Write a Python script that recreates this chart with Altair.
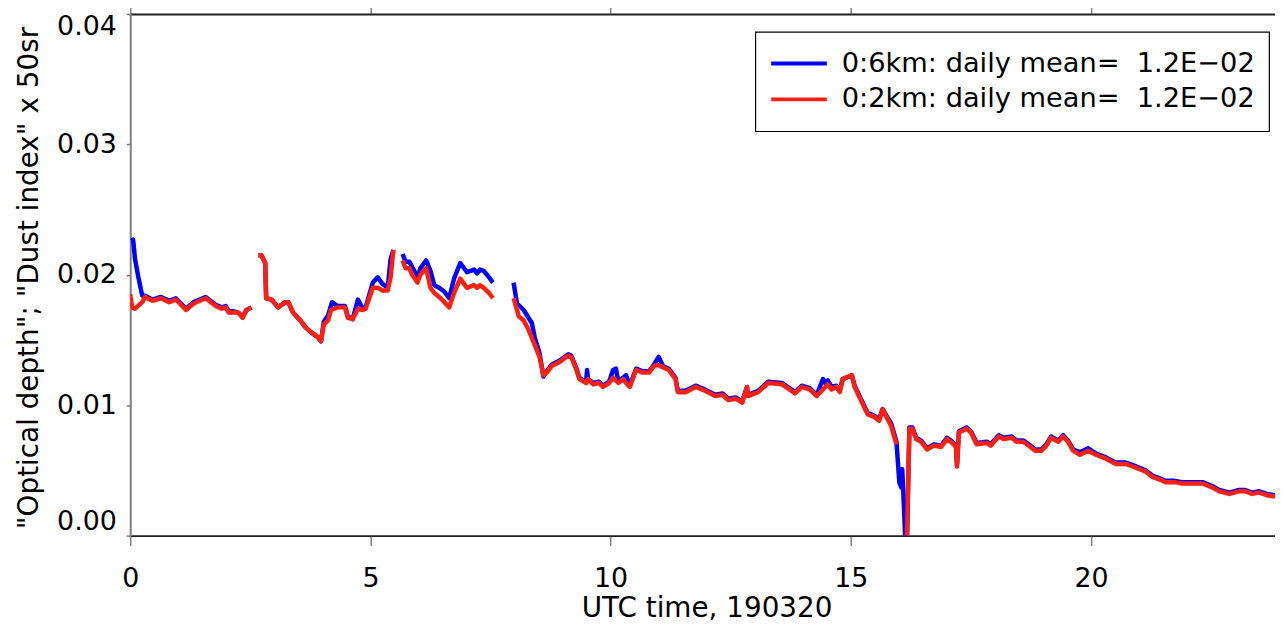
import altair as alt
import pandas as pd

BLUE_LABEL = "0:6km: daily mean=\u00a0\u00a01.2E\u221202"
RED_LABEL = "0:2km: daily mean=\u00a0\u00a01.2E\u221202"
Y_TITLE = '"Optical\u00a0depth";\u00a0"Dust\u00a0index"\u00a0x\u00a050sr'
X_TITLE = "UTC time,\u00a0190320"

x_ticks = [0, 5, 10, 15, 20]
y_ticks = [0.0, 0.01, 0.02, 0.03, 0.04]

# 0:6km series (blue), split where data are missing
blue_segments = [
    [(0.02, 0.0226), (0.06, 0.0227), (0.10, 0.0212), (0.17, 0.0198), (0.25, 0.0184), (0.31, 0.0184),
     (0.46, 0.0181), (0.64, 0.0183), (0.81, 0.0180), (0.95, 0.0182), (1.16, 0.0174), (1.32, 0.0179),
     (1.57, 0.0183), (1.78, 0.0177), (1.90, 0.0175), (1.99, 0.0176), (2.05, 0.0172), (2.15, 0.0172),
     (2.25, 0.0171), (2.34, 0.0168), (2.42, 0.0173), (2.52, 0.0175)],
    [(2.67, 0.0215), (2.73, 0.0215), (2.81, 0.0209), (2.83, 0.0182), (2.94, 0.0181), (3.08, 0.0175),
     (3.23, 0.0179), (3.29, 0.0179), (3.39, 0.0171), (3.54, 0.0165), (3.64, 0.0160), (3.76, 0.0156),
     (3.91, 0.0152), (3.97, 0.0149), (4.03, 0.0164), (4.12, 0.0169), (4.20, 0.0179), (4.32, 0.0176),
     (4.47, 0.0176), (4.53, 0.0168), (4.63, 0.0166), (4.74, 0.0181), (4.84, 0.0174), (4.90, 0.0175),
     (5.05, 0.0194), (5.15, 0.0198), (5.25, 0.0193), (5.36, 0.0190), (5.42, 0.0212), (5.48, 0.0219)],
    [(5.67, 0.0216), (5.73, 0.0210), (5.81, 0.0210), (5.87, 0.0206), (5.98, 0.0198), (6.04, 0.0205),
     (6.16, 0.0211), (6.25, 0.0203), (6.33, 0.0192), (6.43, 0.0190), (6.54, 0.0187), (6.64, 0.0182),
     (6.74, 0.0197), (6.87, 0.0209), (7.01, 0.0202), (7.16, 0.0204), (7.22, 0.0201), (7.28, 0.0204),
     (7.36, 0.0203), (7.47, 0.0198), (7.55, 0.0194)],
    [(7.98, 0.0194), (8.05, 0.0178), (8.19, 0.0173), (8.36, 0.0163), (8.42, 0.0152), (8.52, 0.0140),
     (8.60, 0.0122), (8.67, 0.0126), (8.77, 0.0131), (8.93, 0.0134), (9.12, 0.0139), (9.18, 0.0138),
     (9.29, 0.0128), (9.35, 0.0121), (9.49, 0.0118), (9.51, 0.0127), (9.53, 0.0120), (9.64, 0.0117),
     (9.76, 0.0118), (9.84, 0.0115), (9.97, 0.0118), (10.05, 0.0127), (10.11, 0.0128), (10.16, 0.0118),
     (10.26, 0.0121), (10.32, 0.0123), (10.40, 0.0115), (10.53, 0.0128), (10.67, 0.0126), (10.80, 0.0126),
     (10.90, 0.0131), (11.00, 0.0137), (11.09, 0.0130), (11.21, 0.0128), (11.35, 0.0121), (11.40, 0.0111),
     (11.56, 0.0111), (11.77, 0.0115), (11.91, 0.0113), (12.18, 0.0108), (12.33, 0.0109), (12.45, 0.0105),
     (12.60, 0.0106), (12.74, 0.0103), (12.84, 0.0114), (12.86, 0.0108), (13.07, 0.0111), (13.28, 0.0118),
     (13.57, 0.0117), (13.84, 0.0110), (13.98, 0.0115), (14.15, 0.0113), (14.29, 0.0108), (14.42, 0.0120),
     (14.47, 0.0117), (14.52, 0.0119), (14.60, 0.0114), (14.70, 0.0115), (14.77, 0.0111), (14.83, 0.0120),
     (15.02, 0.0123), (15.08, 0.0115), (15.22, 0.0104), (15.35, 0.0094), (15.49, 0.0092), (15.59, 0.0089),
     (15.66, 0.0097), (15.74, 0.0092), (15.84, 0.0086), (15.95, 0.0072), (16.01, 0.0041), (16.05, 0.0037),
     (16.07, 0.0051), (16.09, 0.0036), (16.13, 0.0000)],
    [(16.17, 0.0000), (16.22, 0.0083), (16.28, 0.0083), (16.36, 0.0075), (16.46, 0.0073), (16.59, 0.0067),
     (16.73, 0.0070), (16.88, 0.0069), (17.00, 0.0075), (17.08, 0.0073), (17.19, 0.0069), (17.21, 0.0054),
     (17.25, 0.0080), (17.41, 0.0083), (17.50, 0.0080), (17.62, 0.0071), (17.83, 0.0072), (17.91, 0.0070),
     (18.08, 0.0077), (18.18, 0.0075), (18.35, 0.0076), (18.45, 0.0073), (18.59, 0.0073), (18.74, 0.0069),
     (18.84, 0.0066), (18.97, 0.0066), (19.07, 0.0070), (19.17, 0.0076), (19.32, 0.0073), (19.42, 0.0077),
     (19.52, 0.0073), (19.63, 0.0066), (19.77, 0.0064), (19.94, 0.0067), (20.10, 0.0063), (20.31, 0.0060),
     (20.46, 0.0057), (20.52, 0.0056), (20.72, 0.0056), (20.87, 0.0054), (21.01, 0.0052), (21.14, 0.0050),
     (21.28, 0.0046), (21.43, 0.0044), (21.55, 0.0042), (21.74, 0.0042), (21.90, 0.0041), (22.11, 0.0041),
     (22.32, 0.0041), (22.52, 0.0038), (22.67, 0.0035), (22.88, 0.0033), (23.08, 0.0035), (23.21, 0.0035),
     (23.35, 0.0033), (23.50, 0.0034), (23.66, 0.0032), (23.83, 0.0031)],
]

# 0:2km series (red)
red_segments = [
    [(0.00, 0.0185), (0.04, 0.0175), (0.10, 0.0174), (0.25, 0.0179), (0.31, 0.0183), (0.46, 0.0180),
     (0.64, 0.0182), (0.81, 0.0179), (0.95, 0.0181), (1.16, 0.0173), (1.32, 0.0178), (1.57, 0.0182),
     (1.78, 0.0176), (1.90, 0.0174), (1.99, 0.0175), (2.05, 0.0171), (2.15, 0.0171), (2.25, 0.0171),
     (2.34, 0.0167), (2.42, 0.0173), (2.52, 0.0175)],
    [(2.67, 0.0215), (2.73, 0.0215), (2.81, 0.0209), (2.83, 0.0182), (2.94, 0.0181), (3.08, 0.0175),
     (3.23, 0.0179), (3.29, 0.0179), (3.39, 0.0171), (3.54, 0.0165), (3.64, 0.0160), (3.76, 0.0156),
     (3.91, 0.0152), (3.97, 0.0149), (4.03, 0.0162), (4.12, 0.0165), (4.18, 0.0173), (4.32, 0.0175),
     (4.47, 0.0175), (4.53, 0.0167), (4.63, 0.0166), (4.74, 0.0174), (4.84, 0.0173), (4.90, 0.0174),
     (5.05, 0.0190), (5.15, 0.0190), (5.25, 0.0188), (5.36, 0.0188), (5.42, 0.0198), (5.48, 0.0219)],
    [(5.67, 0.0211), (5.73, 0.0205), (5.81, 0.0205), (5.87, 0.0200), (5.98, 0.0194), (6.04, 0.0200),
     (6.16, 0.0205), (6.25, 0.0190), (6.33, 0.0186), (6.43, 0.0183), (6.54, 0.0179), (6.64, 0.0175),
     (6.74, 0.0186), (6.87, 0.0197), (7.01, 0.0190), (7.16, 0.0192), (7.22, 0.0190), (7.28, 0.0192),
     (7.36, 0.0190), (7.47, 0.0186), (7.55, 0.0182)],
    [(7.98, 0.0182), (8.09, 0.0168), (8.19, 0.0165), (8.29, 0.0158), (8.40, 0.0148), (8.52, 0.0137),
     (8.60, 0.0123), (8.67, 0.0125), (8.77, 0.0130), (8.93, 0.0133), (9.12, 0.0138), (9.18, 0.0137),
     (9.29, 0.0127), (9.35, 0.0120), (9.49, 0.0117), (9.53, 0.0120), (9.64, 0.0116), (9.76, 0.0117),
     (9.84, 0.0114), (9.97, 0.0117), (10.05, 0.0121), (10.16, 0.0117), (10.26, 0.0120), (10.32, 0.0117),
     (10.40, 0.0114), (10.53, 0.0127), (10.67, 0.0125), (10.80, 0.0125), (10.90, 0.0130), (10.98, 0.0131),
     (11.09, 0.0129), (11.21, 0.0127), (11.35, 0.0120), (11.40, 0.0110), (11.56, 0.0110), (11.77, 0.0114),
     (11.91, 0.0112), (12.18, 0.0107), (12.33, 0.0108), (12.45, 0.0104), (12.60, 0.0105), (12.74, 0.0102),
     (12.84, 0.0114), (12.86, 0.0107), (13.07, 0.0110), (13.28, 0.0117), (13.57, 0.0116), (13.84, 0.0109),
     (13.98, 0.0114), (14.15, 0.0112), (14.29, 0.0107), (14.42, 0.0112), (14.52, 0.0116), (14.60, 0.0112),
     (14.70, 0.0114), (14.77, 0.0110), (14.83, 0.0120), (15.02, 0.0123), (15.08, 0.0114), (15.22, 0.0103),
     (15.35, 0.0093), (15.49, 0.0091), (15.59, 0.0088), (15.66, 0.0097), (15.74, 0.0091), (15.84, 0.0084),
     (15.95, 0.0070)],
    [(16.17, 0.0000), (16.22, 0.0082), (16.28, 0.0082), (16.36, 0.0074), (16.46, 0.0072), (16.59, 0.0066),
     (16.73, 0.0069), (16.88, 0.0068), (17.00, 0.0074), (17.08, 0.0072), (17.19, 0.0068), (17.21, 0.0053),
     (17.25, 0.0079), (17.41, 0.0082), (17.50, 0.0079), (17.62, 0.0070), (17.83, 0.0071), (17.91, 0.0069),
     (18.08, 0.0076), (18.18, 0.0074), (18.35, 0.0075), (18.45, 0.0072), (18.59, 0.0072), (18.74, 0.0068),
     (18.84, 0.0065), (18.97, 0.0065), (19.07, 0.0069), (19.17, 0.0075), (19.32, 0.0072), (19.42, 0.0076),
     (19.52, 0.0072), (19.63, 0.0065), (19.77, 0.0062), (19.94, 0.0065), (20.10, 0.0062), (20.31, 0.0059),
     (20.46, 0.0056), (20.52, 0.0055), (20.72, 0.0055), (20.87, 0.0053), (21.01, 0.0051), (21.14, 0.0049),
     (21.28, 0.0045), (21.43, 0.0043), (21.55, 0.0041), (21.74, 0.0041), (21.90, 0.0040), (22.11, 0.0040),
     (22.32, 0.0040), (22.52, 0.0037), (22.67, 0.0034), (22.88, 0.0032), (23.08, 0.0034), (23.21, 0.0034),
     (23.35, 0.0032), (23.50, 0.0033), (23.66, 0.0031), (23.83, 0.0030)],
]

rows = []
for name, segs in ((BLUE_LABEL, blue_segments), (RED_LABEL, red_segments)):
    for i, seg in enumerate(segs):
        for t, v in seg:
            rows.append({"series": name, "seg": i, "t": t, "v": v})
df = pd.DataFrame(rows)

FONT = "DejaVu Sans"

color_scale = alt.Scale(domain=[BLUE_LABEL, RED_LABEL], range=["#0000ff", "#ff200f"])
x_scale = alt.Scale(domain=[0, 23.83], nice=False, zero=False)
y_scale = alt.Scale(domain=[0, 0.04], nice=False, zero=False)

legend = alt.Legend(
    title=None, orient="none", legendX=629, legendY=18,
    fillColor="white", strokeColor="black", padding=14, clipHeight=36, rowPadding=0,
    symbolType="stroke", symbolSize=3136, symbolStrokeWidth=4,
    labelFont=FONT, labelFontSize=27.4, labelColor="black", labelLimit=700, labelOffset=13,
)

x_axis_bottom = alt.Axis(
    values=x_ticks, format="d", grid=False,
    tickSize=10, tickColor="#808080", tickWidth=1.5,
    domainColor="#222222", domainWidth=2,
    labelFont=FONT, labelFontSize=27, labelColor="black", labelPadding=20, labelFlush=False,
    title=X_TITLE, titleFont=FONT, titleFontSize=28, titleFontWeight="normal",
    titleColor="black", titleX=580, titleY=81, titleAlign="center", titleBaseline="alphabetic",
)
x_axis_top = alt.Axis(
    orient="top", values=x_ticks, labels=False, grid=False, title=None,
    tickSize=12, tickColor="#808080", tickWidth=1.5,
    domainColor="#222222", domainWidth=2,
)
y_axis = alt.Axis(
    values=y_ticks, format=".2f", grid=False, labelFlush=True,
    tickSize=4, tickColor="#808080", tickWidth=1.5,
    domainColor="#808080", domainWidth=2,
    labelFont=FONT, labelFontSize=27, labelColor="black", labelPadding=10,
    title=Y_TITLE, titleFont=FONT, titleFontSize=28,
    titleFontWeight="normal", titleColor="black", titleAngle=270,
    titleX=-93, titleY=518, titleAlign="left", titleBaseline="alphabetic",
)

base = alt.Chart(df)

blue = base.transform_filter(alt.datum.series == BLUE_LABEL).mark_line(
    strokeWidth=4.5, clip=True, strokeJoin="round"
).encode(
    x=alt.X("t:Q", scale=x_scale, axis=x_axis_bottom),
    y=alt.Y("v:Q", scale=y_scale, axis=y_axis),
    color=alt.Color("series:N", scale=color_scale, legend=legend),
    detail="seg:N",
    order="t:Q",
)

red = base.transform_filter(alt.datum.series == RED_LABEL).mark_line(
    strokeWidth=4.5, clip=True, strokeJoin="round"
).encode(
    x=alt.X("t:Q", scale=x_scale, axis=None),
    y=alt.Y("v:Q", scale=y_scale, axis=y_axis),
    color=alt.Color("series:N", scale=color_scale, legend=legend),
    detail="seg:N",
    order="t:Q",
)

top = base.mark_point(opacity=0).encode(
    x=alt.X("t:Q", scale=x_scale, axis=x_axis_top),
    y=alt.value(0),
)

chart = alt.layer(blue, red, top).resolve_axis(x="independent").properties(
    width=1152, height=525,
    autosize=alt.AutoSizeParams(type="none"),
    padding={"left": 123, "top": 4, "right": 0, "bottom": 92},
).configure_view(stroke=None).configure(font=FONT).configure_legend(strokeWidth=1.2)

chart.save("out.html", embed_options={"renderer": "svg", "actions": False})
